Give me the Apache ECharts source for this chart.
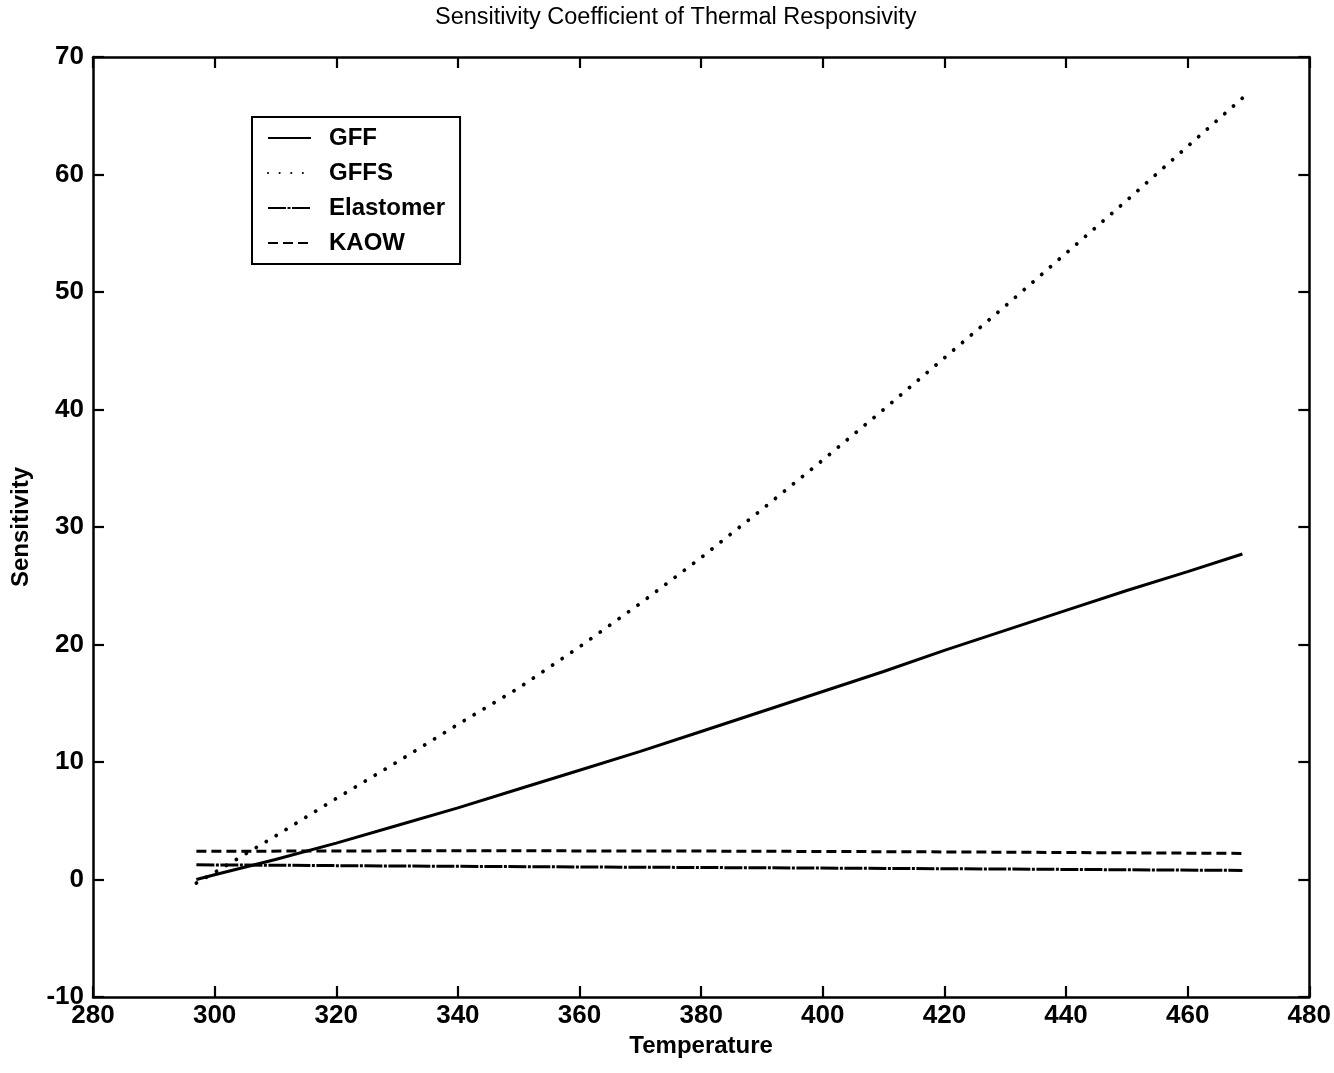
<!DOCTYPE html>
<html>
<head>
<meta charset="utf-8">
<script src="https://cdn.jsdelivr.net/npm/echarts@6/dist/echarts.min.js"></script>
<style>html,body{margin:0;padding:0;background:#fff}#c{width:1334px;height:1073px}</style>
</head>
<body>
<div id="c"></div>
<script>
// Data
const temps = [297, 300, 310, 320, 330, 340, 350, 360, 370, 380, 390, 400, 410, 420, 430, 440, 450, 460, 469];
const gffValues = [0, 0.4, 1.7, 3.1, 4.6, 6.1, 7.7, 9.3, 10.9, 12.6, 14.3, 16.0, 17.7, 19.5, 21.2, 22.9, 24.6, 26.2, 27.7];
const gffsValues = [-0.3, 0.6, 3.7, 6.9, 10.0, 13.2, 16.3, 19.8, 23.5, 27.4, 31.5, 35.7, 40.0, 44.4, 48.8, 53.3, 57.8, 62.4, 66.5];
const flatTemps = [297, 340, 380, 420, 469];
const elastomerValues = [1.25, 1.12, 1.02, 0.92, 0.77];
const kaowValues = [2.4, 2.45, 2.42, 2.35, 2.22];
const xTicks = [280, 300, 320, 340, 360, 380, 400, 420, 440, 460, 480];
const yTicks = [-10, 0, 10, 20, 30, 40, 50, 60, 70];
const seriesNames = ['GFF', 'GFFS', 'Elastomer', 'KAOW'];

const pairs = (xs, ys) => xs.map((x, i) => [x, ys[i]]);
const FONT = '"Liberation Sans", Arial, Helvetica, sans-serif';

const chart = echarts.init(document.getElementById('c'), null, {renderer: 'canvas'});
const tickAxisCommon = {
  axisLine: {show: true, onZero: false, lineStyle: {color: '#000', width: 2.5}},
  axisTick: {show: true, inside: true, length: 11, lineStyle: {color: '#000', width: 2.2}},
  splitLine: {show: false}
};
chart.setOption({
  backgroundColor: '#fff',
  animation: false,
  title: {
    text: 'Sensitivity Coefficient of Thermal Responsivity',
    left: 430, top: 1,
    textStyle: {fontFamily: FONT, fontSize: 23.5, fontWeight: 'normal', color: '#000'}
  },
  legend: {
    data: seriesNames,
    orient: 'vertical',
    left: 252, top: 117,
    padding: [9, 15, 9, 15],
    itemWidth: 43, itemHeight: 20, itemGap: 11,
    borderColor: '#000', borderWidth: 2, backgroundColor: '#fff',
    itemStyle: {opacity: 0, borderWidth: 0},
    textStyle: {fontFamily: FONT, fontSize: 24, fontWeight: 'bold', color: '#000', padding: [0, 0, 0, 13]}
  },
  grid: {left: 93, right: 24, top: 57, bottom: 76, show: false},
  xAxis: [
    Object.assign({
      type: 'value', min: xTicks[0], max: xTicks[xTicks.length - 1], interval: 20,
      position: 'bottom',
      name: 'Temperature', nameLocation: 'middle', nameGap: 30,
      nameTextStyle: {fontFamily: FONT, fontSize: 24, fontWeight: 'bold', color: '#000'},
      axisLabel: {fontFamily: FONT, fontSize: 26, fontWeight: 'bold', color: '#000', margin: 6}
    }, tickAxisCommon),
    Object.assign({
      type: 'value', min: xTicks[0], max: xTicks[xTicks.length - 1], interval: 20,
      position: 'top', axisLabel: {show: false}
    }, tickAxisCommon)
  ],
  yAxis: [
    Object.assign({
      type: 'value', min: yTicks[0], max: yTicks[yTicks.length - 1], interval: 10,
      position: 'left',
      name: 'Sensitivity', nameLocation: 'middle', nameGap: 60,
      nameTextStyle: {fontFamily: FONT, fontSize: 24, fontWeight: 'bold', color: '#000'},
      axisLabel: {fontFamily: FONT, fontSize: 26, fontWeight: 'bold', color: '#000', margin: 9}
    }, tickAxisCommon),
    Object.assign({
      type: 'value', min: yTicks[0], max: yTicks[yTicks.length - 1], interval: 10,
      position: 'right', axisLabel: {show: false}
    }, tickAxisCommon)
  ],
  series: [
    {name: 'GFF', type: 'line', data: pairs(temps, gffValues), showSymbol: false, symbol: 'none',
     lineStyle: {color: '#000', width: 3, type: 'solid'}, itemStyle: {color: '#000'}},
    {name: 'GFFS', type: 'line', data: pairs(temps, gffsValues), showSymbol: false, symbol: 'none',
     lineStyle: {color: '#000', width: 3.8, type: [0.1, 11.5], cap: 'round'}, itemStyle: {color: '#000'}},
    {name: 'Elastomer', type: 'line', data: pairs(flatTemps, elastomerValues), showSymbol: false, symbol: 'none',
     lineStyle: {color: '#000', width: 3, type: [18, 1.5, 3, 1.5]}, itemStyle: {color: '#000'}},
    {name: 'KAOW', type: 'line', data: pairs(flatTemps, kaowValues), showSymbol: false, symbol: 'none',
     lineStyle: {color: '#000', width: 3, type: [10, 5]}, itemStyle: {color: '#000'}}
  ]
});
</script>
</body>
</html>
